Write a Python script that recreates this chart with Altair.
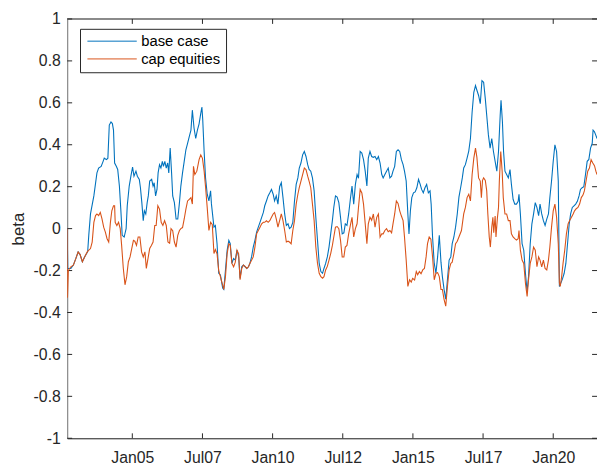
import altair as alt
import pandas as pd

# (decimal year, beta)
base_case = [
    (2002.68, 0.0), (2002.70, -0.19), (2002.81, -0.19), (2002.90, -0.174), (2002.99, -0.142),
    (2003.07, -0.111), (2003.14, -0.124), (2003.22, -0.158), (2003.30, -0.135), (2003.41, -0.11),
    (2003.45, -0.03), (2003.51, 0.07), (2003.63, 0.156), (2003.74, 0.266), (2003.80, 0.289),
    (2003.89, 0.297), (2003.96, 0.321), (2004.00, 0.336), (2004.08, 0.329), (2004.13, 0.336),
    (2004.18, 0.494), (2004.24, 0.509), (2004.29, 0.501), (2004.33, 0.47), (2004.37, 0.313),
    (2004.43, 0.297), (2004.48, 0.282), (2004.54, 0.203), (2004.59, 0.093), (2004.64, -0.032),
    (2004.71, -0.04), (2004.78, 0.0), (2004.82, 0.109), (2004.89, 0.203), (2004.95, 0.25),
    (2005.01, 0.294), (2005.06, 0.25), (2005.13, 0.274), (2005.18, 0.25), (2005.25, 0.235),
    (2005.29, 0.195), (2005.34, 0.124), (2005.39, 0.038), (2005.43, 0.085), (2005.48, 0.07),
    (2005.53, 0.124), (2005.57, 0.156), (2005.62, 0.227), (2005.69, 0.235), (2005.74, 0.203),
    (2005.78, 0.219), (2005.83, 0.156), (2005.88, 0.187), (2005.92, 0.266), (2005.97, 0.305),
    (2006.02, 0.289), (2006.07, 0.321), (2006.11, 0.297), (2006.16, 0.321), (2006.21, 0.289),
    (2006.26, 0.313), (2006.30, 0.266), (2006.35, 0.384), (2006.40, 0.266), (2006.44, 0.156),
    (2006.50, 0.124), (2006.56, 0.046), (2006.62, 0.046), (2006.68, 0.124), (2006.73, 0.203),
    (2006.79, 0.266), (2006.85, 0.321), (2006.91, 0.376), (2006.97, 0.407), (2007.03, 0.439),
    (2007.09, 0.47), (2007.14, 0.565), (2007.20, 0.48), (2007.26, 0.43), (2007.32, 0.47),
    (2007.38, 0.50), (2007.44, 0.55), (2007.48, 0.58), (2007.51, 0.52), (2007.56, 0.368),
    (2007.61, 0.242), (2007.67, 0.164), (2007.73, 0.132), (2007.79, 0.18), (2007.82, 0.118),
    (2007.91, 0.007), (2007.96, 0.015), (2008.02, -0.072), (2008.08, -0.213), (2008.14, -0.221),
    (2008.22, -0.283), (2008.26, -0.29), (2008.32, -0.197), (2008.38, -0.103), (2008.44, -0.056),
    (2008.49, -0.072), (2008.55, -0.166), (2008.61, -0.142), (2008.67, -0.15), (2008.73, -0.103),
    (2008.79, -0.135), (2008.84, -0.237), (2008.90, -0.182), (2008.96, -0.174), (2009.02, -0.182),
    (2009.08, -0.19), (2009.14, -0.182), (2009.19, -0.166), (2009.25, -0.135), (2009.31, -0.088),
    (2009.37, -0.056), (2009.43, -0.017), (2009.49, 0.007), (2009.55, 0.03), (2009.61, 0.054),
    (2009.67, 0.077), (2009.72, 0.109), (2009.78, 0.132), (2009.84, 0.156), (2009.90, 0.171),
    (2009.96, 0.187), (2010.02, 0.164), (2010.07, 0.132), (2010.13, 0.156), (2010.19, 0.117),
    (2010.25, 0.2), (2010.31, 0.219), (2010.37, 0.148), (2010.43, 0.07), (2010.49, 0.015),
    (2010.55, 0.023), (2010.60, 0.0), (2010.66, 0.007), (2010.72, 0.03), (2010.78, 0.132),
    (2010.84, 0.211), (2010.90, 0.242), (2010.95, 0.289), (2011.01, 0.313), (2011.07, 0.352),
    (2011.13, 0.368), (2011.19, 0.344), (2011.25, 0.305), (2011.30, 0.282), (2011.36, 0.274),
    (2011.42, 0.242), (2011.48, 0.18), (2011.54, 0.054), (2011.60, -0.056), (2011.66, -0.166),
    (2011.72, -0.205), (2011.78, -0.213), (2011.83, -0.19), (2011.89, -0.166), (2011.95, -0.135),
    (2012.01, -0.088), (2012.07, -0.025), (2012.13, 0.038), (2012.18, 0.101), (2012.24, 0.156),
    (2012.30, 0.15), (2012.36, 0.124), (2012.42, 0.054), (2012.48, -0.025), (2012.54, -0.02),
    (2012.59, 0.023), (2012.65, 0.015), (2012.71, 0.07), (2012.77, 0.14), (2012.83, 0.203),
    (2012.89, 0.117), (2012.95, 0.211), (2013.01, 0.258), (2013.06, 0.24), (2013.12, 0.368),
    (2013.18, 0.36), (2013.24, 0.329), (2013.30, 0.274), (2013.36, 0.203), (2013.41, 0.336),
    (2013.47, 0.368), (2013.53, 0.344), (2013.59, 0.34), (2013.65, 0.344), (2013.71, 0.329),
    (2013.77, 0.344), (2013.83, 0.313), (2013.89, 0.258), (2013.94, 0.242), (2014.00, 0.258),
    (2014.06, 0.274), (2014.12, 0.289), (2014.18, 0.242), (2014.24, 0.25), (2014.29, 0.274),
    (2014.35, 0.297), (2014.41, 0.368), (2014.47, 0.376), (2014.53, 0.368), (2014.59, 0.329),
    (2014.65, 0.305), (2014.70, 0.274), (2014.76, 0.227), (2014.82, 0.07), (2014.86, -0.025),
    (2014.91, 0.085), (2014.96, 0.148), (2015.02, 0.171), (2015.08, 0.175), (2015.14, 0.195),
    (2015.20, 0.235), (2015.26, 0.211), (2015.31, 0.187), (2015.37, 0.171), (2015.43, 0.195),
    (2015.49, 0.211), (2015.55, 0.171), (2015.61, 0.18), (2015.65, 0.117), (2015.70, -0.04),
    (2015.76, -0.166), (2015.82, -0.213), (2015.88, -0.135), (2015.94, -0.032), (2016.00, -0.16),
    (2016.05, -0.229), (2016.11, -0.29), (2016.17, -0.337), (2016.23, -0.244), (2016.29, -0.15),
    (2016.35, -0.135), (2016.40, -0.072), (2016.46, -0.04), (2016.52, 0.007), (2016.58, 0.07),
    (2016.64, 0.15), (2016.70, 0.195), (2016.76, 0.242), (2016.81, 0.289), (2016.87, 0.305),
    (2016.93, 0.336), (2016.99, 0.37), (2017.05, 0.43), (2017.11, 0.556), (2017.17, 0.65),
    (2017.23, 0.682), (2017.28, 0.66), (2017.34, 0.635), (2017.40, 0.596), (2017.46, 0.706),
    (2017.52, 0.698), (2017.58, 0.619), (2017.63, 0.541), (2017.69, 0.447), (2017.75, 0.384),
    (2017.81, 0.43), (2017.87, 0.368), (2017.93, 0.321), (2017.99, 0.274), (2018.05, 0.368),
    (2018.11, 0.541), (2018.14, 0.612), (2018.19, 0.509), (2018.23, 0.368), (2018.28, 0.274),
    (2018.34, 0.258), (2018.40, 0.242), (2018.46, 0.282), (2018.51, 0.211), (2018.57, 0.14),
    (2018.63, 0.117), (2018.69, 0.117), (2018.75, 0.13), (2018.78, 0.164), (2018.83, 0.07),
    (2018.89, -0.072), (2018.95, -0.103), (2019.01, -0.213), (2019.07, -0.3), (2019.12, -0.229),
    (2019.18, -0.072), (2019.24, 0.023), (2019.30, 0.07), (2019.36, 0.124), (2019.42, 0.1),
    (2019.48, 0.062), (2019.53, 0.117), (2019.59, 0.07), (2019.65, 0.038), (2019.71, 0.015),
    (2019.77, 0.045), (2019.83, 0.07), (2019.88, 0.148), (2019.94, 0.227), (2020.00, 0.321),
    (2020.06, 0.4), (2020.12, 0.368), (2020.18, 0.227), (2020.22, -0.276), (2020.27, -0.26),
    (2020.33, -0.24), (2020.39, -0.213), (2020.45, -0.166), (2020.51, -0.072), (2020.57, 0.023),
    (2020.62, 0.07), (2020.68, 0.101), (2020.74, 0.109), (2020.80, 0.117), (2020.86, 0.13),
    (2020.92, 0.156), (2020.97, 0.187), (2021.03, 0.195), (2021.09, 0.2), (2021.15, 0.258),
    (2021.21, 0.321), (2021.27, 0.33), (2021.33, 0.384), (2021.39, 0.407), (2021.42, 0.47),
    (2021.47, 0.462), (2021.52, 0.445), (2021.56, 0.43),
]

cap_equities = [
    (2002.68, 0.0), (2002.69, -0.33), (2002.72, -0.2), (2002.81, -0.182), (2002.90, -0.174),
    (2002.99, -0.142), (2003.07, -0.111), (2003.14, -0.124), (2003.22, -0.158), (2003.30, -0.135),
    (2003.40, -0.11), (2003.45, -0.103), (2003.51, -0.095), (2003.57, -0.064), (2003.63, 0.03),
    (2003.69, 0.062), (2003.74, 0.07), (2003.80, 0.062), (2003.86, 0.077), (2003.92, 0.046),
    (2003.98, 0.007), (2004.04, -0.017), (2004.10, -0.048), (2004.16, -0.064), (2004.22, 0.03),
    (2004.27, 0.085), (2004.33, 0.109), (2004.37, 0.109), (2004.39, 0.03), (2004.45, 0.015),
    (2004.51, 0.03), (2004.57, 0.0), (2004.62, -0.08), (2004.68, -0.19), (2004.74, -0.268),
    (2004.80, -0.229), (2004.86, -0.158), (2004.92, -0.135), (2004.98, -0.095), (2005.04, -0.056),
    (2005.09, -0.06), (2005.15, -0.08), (2005.21, -0.04), (2005.27, -0.04), (2005.33, -0.111),
    (2005.39, -0.135), (2005.45, -0.111), (2005.50, -0.19), (2005.56, -0.142), (2005.62, -0.095),
    (2005.68, -0.08), (2005.74, -0.064), (2005.80, 0.015), (2005.85, 0.015), (2005.91, 0.109),
    (2005.97, 0.093), (2006.03, 0.03), (2006.09, 0.015), (2006.15, 0.038), (2006.21, 0.015),
    (2006.27, -0.064), (2006.33, -0.07), (2006.38, 0.0), (2006.44, -0.01), (2006.50, -0.064),
    (2006.56, -0.088), (2006.62, -0.032), (2006.68, -0.009), (2006.73, 0.0), (2006.79, 0.005),
    (2006.85, 0.046), (2006.91, 0.093), (2006.97, 0.132), (2007.03, 0.14), (2007.09, 0.148),
    (2007.14, 0.117), (2007.18, 0.297), (2007.23, 0.258), (2007.30, 0.274), (2007.38, 0.329),
    (2007.44, 0.352), (2007.50, 0.335), (2007.56, 0.274), (2007.61, 0.2), (2007.67, 0.1),
    (2007.73, -0.009), (2007.79, 0.03), (2007.85, 0.02), (2007.91, -0.119), (2007.96, -0.1),
    (2008.02, -0.12), (2008.08, -0.2), (2008.14, -0.229), (2008.20, -0.26), (2008.26, -0.29),
    (2008.32, -0.229), (2008.38, -0.119), (2008.44, -0.072), (2008.49, -0.08), (2008.55, -0.166),
    (2008.61, -0.182), (2008.67, -0.16), (2008.73, -0.103), (2008.79, -0.12), (2008.84, -0.244),
    (2008.90, -0.19), (2008.96, -0.174), (2009.02, -0.18), (2009.08, -0.19), (2009.14, -0.182),
    (2009.19, -0.166), (2009.31, -0.135), (2009.37, -0.088), (2009.43, -0.025), (2009.49, -0.009),
    (2009.55, 0.007), (2009.61, 0.023), (2009.67, 0.03), (2009.72, 0.03), (2009.78, 0.038),
    (2009.84, 0.03), (2009.90, 0.038), (2009.96, 0.054), (2010.02, 0.07), (2010.07, 0.077),
    (2010.13, 0.046), (2010.19, 0.007), (2010.25, 0.038), (2010.31, 0.07), (2010.37, 0.038),
    (2010.43, -0.009), (2010.49, -0.064), (2010.55, -0.06), (2010.60, -0.064), (2010.66, -0.072),
    (2010.72, -0.009), (2010.78, 0.038), (2010.84, 0.117), (2010.90, 0.164), (2010.95, 0.195),
    (2011.01, 0.227), (2011.07, 0.258), (2011.13, 0.289), (2011.19, 0.282), (2011.25, 0.25),
    (2011.30, 0.227), (2011.36, 0.195), (2011.42, 0.117), (2011.48, 0.038), (2011.54, -0.088),
    (2011.60, -0.166), (2011.66, -0.213), (2011.72, -0.229), (2011.78, -0.237), (2011.83, -0.229),
    (2011.89, -0.197), (2011.95, -0.18), (2012.01, -0.15), (2012.07, -0.119), (2012.13, -0.08),
    (2012.18, -0.04), (2012.24, 0.007), (2012.30, 0.01), (2012.36, 0.0), (2012.42, -0.056),
    (2012.48, -0.135), (2012.54, -0.135), (2012.59, -0.088), (2012.65, -0.08), (2012.71, -0.025),
    (2012.77, 0.015), (2012.83, 0.054), (2012.89, -0.04), (2012.95, 0.0), (2013.01, 0.023),
    (2013.06, 0.101), (2013.12, 0.187), (2013.18, 0.17), (2013.24, 0.117), (2013.30, 0.023),
    (2013.36, -0.072), (2013.41, 0.023), (2013.47, 0.054), (2013.53, 0.04), (2013.59, 0.07),
    (2013.65, 0.007), (2013.71, 0.054), (2013.77, 0.07), (2013.83, -0.04), (2013.89, -0.025),
    (2013.94, -0.025), (2014.00, -0.009), (2014.06, 0.0), (2014.12, -0.015), (2014.18, -0.009),
    (2014.24, -0.02), (2014.29, 0.023), (2014.35, 0.07), (2014.41, 0.132), (2014.47, 0.12),
    (2014.53, 0.085), (2014.59, 0.06), (2014.65, 0.038), (2014.70, -0.04), (2014.76, -0.15),
    (2014.82, -0.276), (2014.88, -0.244), (2014.94, -0.255), (2014.99, -0.237), (2015.06, -0.245),
    (2015.12, -0.205), (2015.17, -0.22), (2015.23, -0.205), (2015.29, -0.215), (2015.35, -0.197),
    (2015.41, -0.19), (2015.47, -0.135), (2015.52, -0.072), (2015.58, -0.04), (2015.64, -0.05),
    (2015.70, -0.135), (2015.76, -0.244), (2015.82, -0.213), (2015.88, -0.21), (2015.94, -0.229),
    (2016.00, -0.29), (2016.05, -0.29), (2016.11, -0.337), (2016.17, -0.37), (2016.23, -0.276),
    (2016.29, -0.197), (2016.35, -0.166), (2016.40, -0.16), (2016.46, -0.119), (2016.52, -0.072),
    (2016.58, -0.06), (2016.64, -0.04), (2016.73, -0.009), (2016.81, 0.07), (2016.87, 0.101),
    (2016.93, 0.148), (2016.99, 0.164), (2017.05, 0.132), (2017.11, 0.258), (2017.17, 0.336),
    (2017.23, 0.384), (2017.28, 0.34), (2017.34, 0.242), (2017.40, 0.227), (2017.44, 0.148),
    (2017.48, 0.23), (2017.52, 0.242), (2017.58, 0.23), (2017.63, 0.18), (2017.67, 0.07),
    (2017.72, -0.04), (2017.76, -0.088), (2017.81, 0.007), (2017.85, 0.054), (2017.88, -0.02),
    (2017.93, 0.06), (2017.96, -0.04), (2018.01, 0.05), (2018.05, 0.101), (2018.08, 0.227),
    (2018.13, 0.368), (2018.18, 0.274), (2018.22, 0.148), (2018.28, 0.07), (2018.34, 0.07),
    (2018.40, 0.038), (2018.46, 0.038), (2018.51, -0.025), (2018.57, -0.04), (2018.63, -0.048),
    (2018.69, -0.055), (2018.75, -0.048), (2018.78, -0.009), (2018.83, -0.103), (2018.89, -0.15),
    (2018.95, -0.166), (2019.01, -0.26), (2019.07, -0.323), (2019.12, -0.244), (2019.18, -0.166),
    (2019.24, -0.135), (2019.30, -0.088), (2019.36, -0.103), (2019.42, -0.182), (2019.48, -0.135),
    (2019.53, -0.15), (2019.59, -0.182), (2019.65, -0.15), (2019.71, -0.19), (2019.77, -0.197),
    (2019.83, -0.15), (2019.88, -0.088), (2019.94, 0.007), (2020.00, 0.085), (2020.06, 0.117),
    (2020.12, 0.054), (2020.18, -0.072), (2020.22, -0.26), (2020.25, -0.276), (2020.30, -0.229),
    (2020.35, -0.166), (2020.41, -0.103), (2020.47, -0.025), (2020.53, 0.023), (2020.59, 0.04),
    (2020.65, 0.054), (2020.71, 0.07), (2020.76, 0.085), (2020.82, 0.095), (2020.88, 0.101),
    (2020.94, 0.117), (2021.00, 0.148), (2021.06, 0.16), (2021.11, 0.18), (2021.17, 0.227),
    (2021.23, 0.274), (2021.29, 0.289), (2021.35, 0.329), (2021.41, 0.313), (2021.47, 0.3),
    (2021.52, 0.274), (2021.56, 0.258),
]

series_names = ["base case", "cap equities"]
series_colors = ["#0072BD", "#D95319"]
x_ticks = [2005, 2007.5, 2010, 2012.5, 2015, 2017.5, 2020]
y_ticks = [-1, -0.8, -0.6, -0.4, -0.2, 0, 0.2, 0.4, 0.6, 0.8, 1]
x_range = [2002.68, 2021.56]
y_range = [-1, 1]

rows = []
for name, pts in zip(series_names, [base_case, cap_equities]):
    for i, (yr, b) in enumerate(pts):
        rows.append({"year": yr, "beta": b, "series": name, "idx": i})
df = pd.DataFrame(rows)

W, H = 537, 425
FONT = "Liberation Sans"
AX = "#262626"
TICK_PX = 5

# box frame: top edge plus inward tick marks on all four sides (in data units)
x0, x1 = x_range
y0, y1 = y_range
tx = (x1 - x0) * TICK_PX / W
ty = (y1 - y0) * TICK_PX / H
frame_rows = [{"year": x0, "year2": x1, "beta": y1, "beta2": y1}]
for v in x_ticks:
    frame_rows.append({"year": v, "year2": v, "beta": y1, "beta2": y1 - ty})
    frame_rows.append({"year": v, "year2": v, "beta": y0, "beta2": y0 + ty})
for v in y_ticks:
    frame_rows.append({"year": x0, "year2": x0 + tx, "beta": v, "beta2": v})
    frame_rows.append({"year": x1, "year2": x1 - tx, "beta": v, "beta2": v})
frame_df = pd.DataFrame(frame_rows)

xlab = "(datum.value % 1 == 0 ? 'Jan' : 'Jul') + substring(toString(floor(datum.value)), 2, 4)"
ylab = "toString(round(datum.value * 10) / 10)"


def x_enc():
    return alt.X("year:Q", scale=alt.Scale(domain=x_range, nice=False, zero=False),
                 axis=alt.Axis(
                     orient="bottom", values=x_ticks, labelExpr=xlab, ticks=False, tickSize=0,
                     domain=True, domainColor=AX, domainWidth=1, labelFont=FONT,
                     labelFontSize=16, labelColor=AX, labelPadding=12, title=None, grid=False,
                     labelFlush=False, labelOverlap=False))


def y_enc():
    return alt.Y("beta:Q", scale=alt.Scale(domain=y_range, nice=False, zero=False),
                 axis=alt.Axis(
                     orient="left", values=y_ticks, labelExpr=ylab, ticks=False, tickSize=0,
                     domain=True, domainColor="#7a7a7a", domainWidth=1, labelFont=FONT,
                     labelFontSize=16, labelColor=AX, labelPadding=7, grid=False,
                     labelFlush=False, labelOverlap=False,
                     title="beta", titleFont=FONT, titleFontSize=17, titleFontWeight="normal",
                     titleColor=AX, titleAngle=270, titleX=-44, titleY=H / 2,
                     titleAlign="center", titleBaseline="alphabetic"))


frame = alt.Chart(frame_df).mark_rule(color=AX, strokeWidth=1).encode(
    x=x_enc(),
    x2="year2:Q",
    y=y_enc(),
    y2="beta2:Q",
)

lines = alt.Chart(df).mark_line(strokeWidth=1.1, clip=True).encode(
    x=x_enc(),
    y=y_enc(),
    color=alt.Color("series:N", scale=alt.Scale(domain=series_names, range=series_colors),
                    legend=alt.Legend(
                        orient="none", legendX=13, legendY=10, title=None,
                        symbolType="M-1,0H9", symbolSize=100, symbolStrokeWidth=1,
                        labelFont=FONT, labelFontSize=15, labelColor="#000000",
                        labelOffset=42, strokeColor=AX, fillColor="white",
                        padding=5, rowPadding=2, cornerRadius=0)),
    order="idx:Q",
)

chart = alt.layer(frame, lines).properties(
    width=W, height=H,
    padding={"left": 60, "top": 8, "right": 0, "bottom": 26},
    autosize=alt.AutoSizeParams(type="none"),
).configure_view(stroke=None).configure(background="white")

chart.save("out.html", embed_options={"renderer": "svg", "actions": False})
